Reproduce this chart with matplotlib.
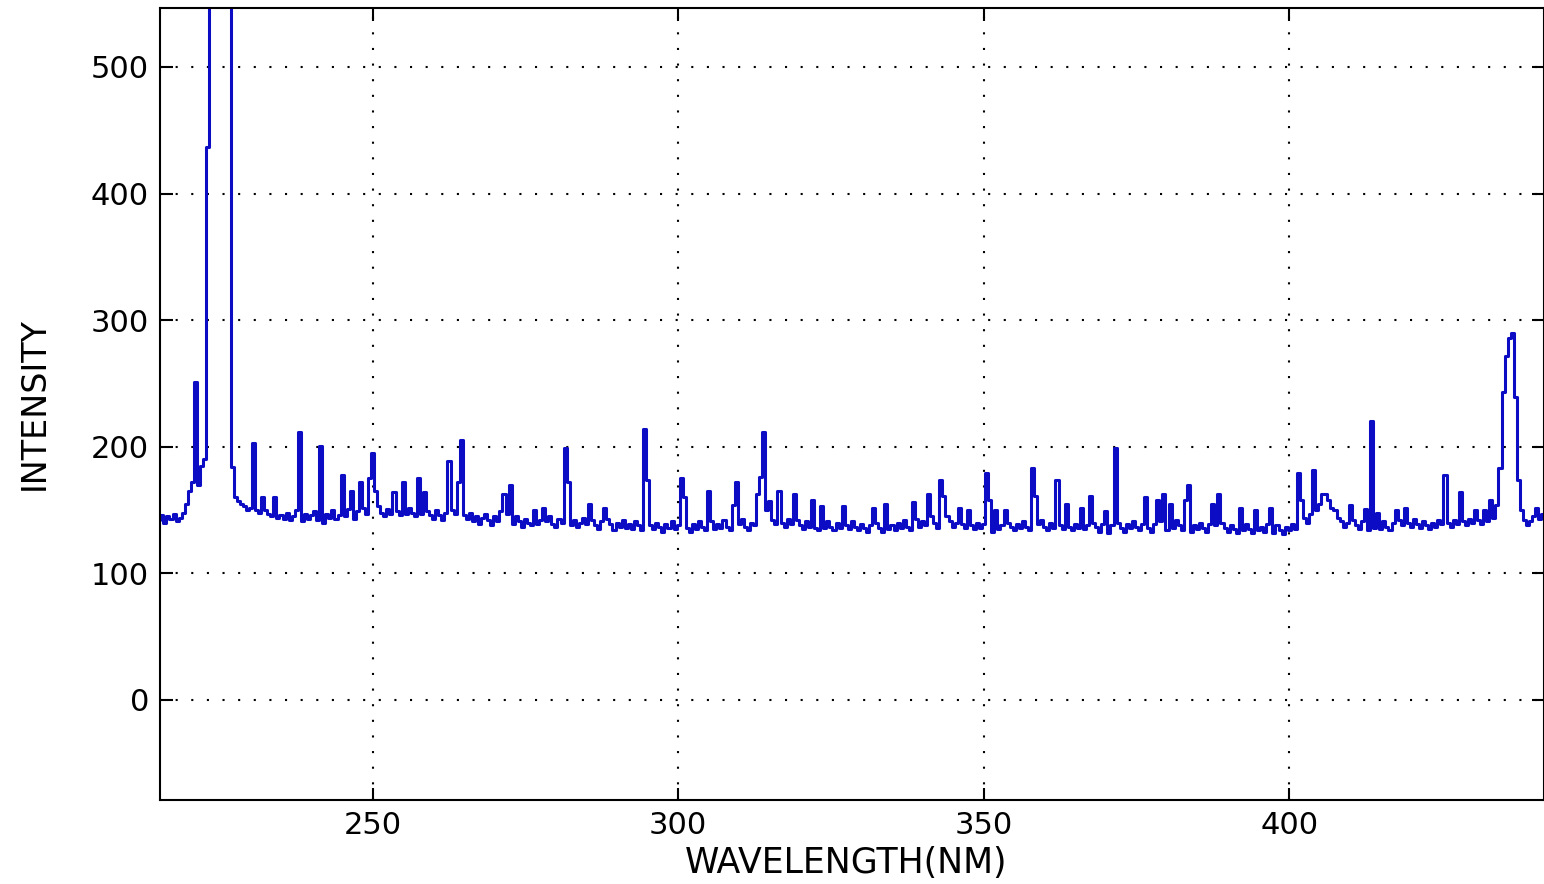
import numpy as np
import matplotlib
matplotlib.use("Agg")
import matplotlib.pyplot as plt

# spectrum baseline, sampled every 0.5 nm starting at 215.0 nm (one row = 10 nm)
baseline_rows = [
    [142, 146, 140, 145, 143, 147, 141, 144, 148, 155, 165, 172, 175, 170, 185, 190, 200, 200, 200, 200],  # 215
    [200, 200, 200, 200, 184, 160, 157, 155, 153, 150, 152, 155, 150, 148, 146, 150, 147, 145, 148, 144],  # 225
    [146, 143, 148, 142, 145, 150, 144, 141, 147, 143, 146, 149, 142, 145, 140, 147, 144, 150, 143, 146],  # 235
    [148, 145, 151, 146, 143, 149, 145, 152, 147, 144, 150, 146, 153, 148, 145, 151, 147, 143, 149, 146],  # 245
    [150, 147, 152, 148, 145, 151, 147, 144, 149, 146, 143, 150, 146, 142, 148, 145, 150, 147, 152, 148],  # 255
    [146, 143, 148, 141, 145, 139, 144, 147, 142, 138, 145, 141, 149, 144, 147, 142, 139, 145, 141, 137],  # 265
    [143, 140, 138, 144, 139, 142, 136, 141, 145, 139, 137, 143, 140, 146, 141, 138, 142, 137, 140, 144],  # 275
    [139, 136, 142, 138, 135, 141, 137, 143, 139, 134, 140, 137, 142, 136, 139, 135, 141, 138, 134, 140],  # 285
    [143, 138, 135, 140, 137, 133, 139, 136, 141, 135, 138, 134, 140, 136, 133, 139, 135, 141, 137, 134],  # 295
    [138, 141, 135, 139, 136, 142, 137, 134, 140, 136, 139, 143, 137, 134, 140, 138, 142, 136, 145, 150],  # 305
    [148, 142, 139, 145, 140, 137, 143, 139, 136, 142, 138, 135, 141, 137, 140, 136, 134, 139, 136, 141],  # 315
    [137, 134, 140, 136, 133, 138, 135, 141, 137, 134, 139, 136, 133, 138, 135, 140, 136, 133, 139, 135],  # 325
    [138, 134, 140, 136, 142, 137, 134, 139, 143, 137, 141, 138, 135, 145, 140, 136, 142, 139, 145, 141],  # 335
    [137, 140, 135, 139, 136, 133, 138, 135, 140, 136, 139, 142, 136, 133, 139, 135, 138, 134, 140, 137],  # 345
    [134, 139, 136, 141, 137, 134, 140, 136, 139, 142, 137, 134, 140, 136, 142, 138, 135, 140, 137, 134],  # 355
    [139, 136, 141, 135, 138, 134, 140, 137, 133, 139, 135, 132, 138, 135, 140, 136, 133, 139, 136, 141],  # 365
    [137, 134, 139, 142, 136, 133, 139, 135, 141, 137, 134, 140, 136, 142, 138, 134, 139, 136, 133, 138],  # 375
    [135, 140, 136, 133, 139, 135, 138, 134, 140, 136, 133, 138, 135, 132, 137, 134, 139, 135, 132, 138],  # 385
    [134, 137, 133, 139, 135, 132, 138, 134, 131, 137, 134, 139, 135, 141, 138, 144, 140, 147, 143, 150],  # 395
    [155, 160, 163, 158, 152, 148, 144, 141, 137, 140, 136, 142, 138, 135, 141, 137, 134, 140, 136, 139],  # 405
    [135, 141, 137, 134, 140, 136, 142, 138, 135, 140, 137, 143, 139, 136, 141, 138, 135, 140, 137, 142],  # 415
    [139, 144, 140, 137, 142, 139, 145, 141, 138, 143, 140, 146, 142, 139, 145, 141, 148, 144, 152, 160],  # 425
    [170, 175, 180, 180, 175, 165, 150, 142, 138, 141, 145, 148, 143, 147, 144],                           # 435
]
start_wl = 215.0
step_wl = 0.5

# emission lines (nm, counts); the 223-226.5 nm line is saturated
line_wl = [221.0, 223.0, 223.5, 224.0, 224.5, 225.0, 225.5, 226.0, 226.5, 227.0,
           230.5, 232.0, 234.0, 238.0, 241.5, 245.0, 246.5, 248.0, 249.5, 250.0,
           250.5, 253.5, 255.0, 257.5, 258.5, 262.5, 264.0, 264.5, 271.5, 272.5,
           276.5, 278.0, 281.5, 282.0, 285.5, 288.0, 294.5, 295.0, 300.5, 301.0,
           305.0, 309.0, 309.5, 313.0, 313.5, 314.0, 315.0, 316.5, 319.0, 322.0,
           323.5, 327.0, 332.0, 334.0, 338.5, 341.0, 343.0, 343.5, 346.0, 347.5,
           350.5, 351.0, 352.0, 353.5, 358.0, 358.5, 362.0, 363.5, 366.0, 367.5,
           370.0, 371.5, 376.5, 378.5, 379.5, 380.5, 383.0, 383.5, 387.5, 388.5,
           392.0, 394.5, 397.0, 401.5, 402.0, 404.0, 405.5, 407.5, 410.0, 412.5,
           413.5, 414.5, 417.5, 419.0, 425.5, 428.0, 430.5, 432.0, 433.0, 434.0,
           434.5, 435.0, 435.5, 436.0, 436.5, 437.0, 437.5, 438.0, 440.5]
line_counts = [251, 437, 3000, 3000, 3000, 3000, 3000, 3000, 3000, 184,
               203, 160, 160, 212, 201, 178, 165, 172, 175, 195,
               165, 164, 172, 175, 164, 189, 172, 205, 163, 170,
               150, 152, 199, 172, 155, 152, 214, 174, 175, 160,
               165, 154, 172, 163, 176, 212, 157, 165, 163, 158,
               153, 153, 152, 155, 156, 163, 174, 161, 152, 150,
               179, 158, 150, 150, 183, 161, 174, 155, 152, 161,
               149, 199, 160, 158, 163, 155, 158, 170, 155, 163,
               152, 150, 152, 179, 158, 182, 163, 150, 154, 151,
               220, 148, 150, 152, 178, 164, 150, 150, 158, 154,
               183, 243, 272, 286, 290, 239, 174, 150, 152]

baseline = np.concatenate([np.array(r, dtype=float) for r in baseline_rows])
wavelength = start_wl + step_wl * np.arange(len(baseline))
intensity = baseline.copy()
idx = np.round((np.array(line_wl) - start_wl) / step_wl).astype(int)
intensity[idx] = line_counts

plt.rcParams['font.family'] = ['DejaVu Sans']

fig = plt.figure(figsize=(15.44, 8.84), dpi=100)
ax = fig.add_axes([160 / 1544, 84 / 884, 1384 / 1544, 792 / 884])

ax.plot(wavelength, intensity, color='#0c0cc4', lw=2.2, drawstyle='steps-mid')

ax.set_xlim(215.2, 441.7)
ax.set_ylim(-79, 546.6)
ax.set_xticks([250, 300, 350, 400])
ax.set_yticks([0, 100, 200, 300, 400, 500])

ax.set_axisbelow(True)
ax.grid(True, color='black', linestyle=(0, (1, 6.5)), lw=1.5)
for s in ax.spines.values():
    s.set_linewidth(1.5)
ax.tick_params(direction='in', length=9, width=1.5, top=True, right=True,
               labelsize=22, pad=8)

ax.set_xlabel('WAVELENGTH(NM)', fontsize=25)
ax.set_ylabel('INTENSITY', fontsize=24)
ax.xaxis.set_label_coords(0.4957, -0.079)
ax.yaxis.set_label_coords(-0.091, 0.5)
ax.xaxis.label.set_va('center')
ax.yaxis.label.set_va('center')

fig.savefig('out.png', dpi=100, facecolor='white')
